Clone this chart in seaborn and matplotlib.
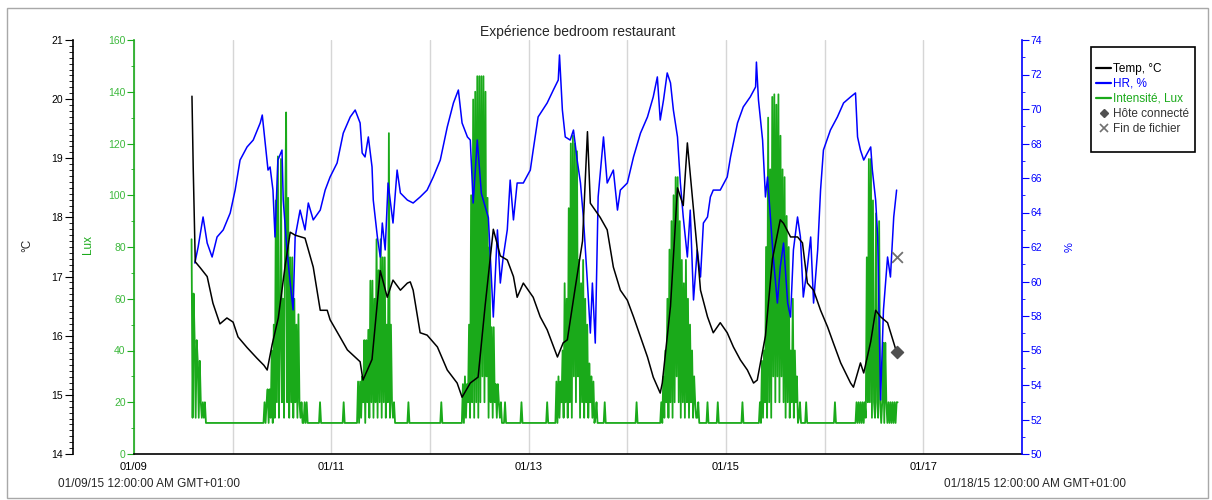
import matplotlib

matplotlib.use("Agg")
import matplotlib.dates as mdates
import matplotlib.pyplot as plt
import pandas as pd
import seaborn as sns
from matplotlib.lines import Line2D
from matplotlib.patches import Rectangle
from matplotlib.ticker import FuncFormatter, MultipleLocator

# ---------------------------------------------------------------
# DONNÉES (heures depuis le 01/09/15 00:00)
# ---------------------------------------------------------------
debut = pd.Timestamp("2015-01-09 00:00")
fin = pd.Timestamp("2015-01-18 00:00")

temp_heures = [14.1, 14.4, 14.9, 16.1, 17.8, 19.2, 20.9, 22.6, 24.1, 25.3,
               27.5, 29.9, 31.6, 32.4, 33.6, 35.1, 36.8, 38.0, 39.2, 41.6,
               43.6, 45.3, 47.0, 47.7, 50.1, 51.9, 55.0, 55.7, 57.9, 59.9,
               61.6, 63.0, 64.8, 66.5, 67.2, 67.9, 69.6, 71.3, 73.8, 76.2,
               78.6, 79.8, 81.8, 83.7, 85.4, 87.4, 89.1, 90.8, 92.3, 93.2,
               94.7, 97.1, 98.8, 100.5, 103.0, 104.4, 105.4, 107.3, 109.1, 110.3,
               111.0, 112.7, 113.4, 115.1, 116.6, 118.3, 120.0, 121.5, 123.2, 124.9,
               126.3, 128.0, 128.5, 130.5, 132.2, 133.6, 134.6, 136.1, 137.0, 137.8,
               139.5, 140.9, 142.6, 144.3, 145.8, 147.5, 149.2, 150.7, 151.6, 153.6,
               155.3, 157.2, 158.0, 159.7, 161.4, 162.6, 163.8, 165.3, 167.0, 168.7,
               170.1, 171.9, 174.3, 175.0, 176.7, 177.5, 179.2, 180.4, 181.6, 183.3,
               184.8, 185.5]
temp_valeurs = [20.05, 18.85, 17.25, 17.15, 17.0, 16.55, 16.2, 16.3, 16.23, 15.98,
                15.8, 15.62, 15.5, 15.42, 15.85, 16.3, 17.2, 17.75, 17.7, 17.65,
                17.16, 16.43, 16.43, 16.27, 15.98, 15.76, 15.56, 15.25, 15.6, 17.1,
                16.65, 16.94, 16.77, 16.89, 16.91, 16.77, 16.05, 16.01, 15.81, 15.42,
                15.2, 14.96, 15.2, 15.3, 16.5, 17.8, 17.35, 17.28, 17.0, 16.65,
                16.89, 16.65, 16.32, 16.1, 15.64, 15.88, 15.93, 16.8, 17.6, 19.45,
                18.24, 18.07, 18.0, 17.79, 17.16, 16.77, 16.6, 16.32, 15.98, 15.64,
                15.3, 15.03, 15.2, 16.5, 18.5, 18.2, 19.26, 18.13, 17.45, 16.77,
                16.32, 16.05, 16.22, 16.05, 15.81, 15.59, 15.42, 15.2, 15.25, 16.0,
                17.3, 17.96, 17.9, 17.67, 17.67, 17.57, 16.89, 16.77, 16.43, 16.15,
                15.88, 15.54, 15.2, 15.13, 15.54, 15.37, 15.9, 16.43, 16.32, 16.22,
                15.88, 15.72]

hr_heures = [14.8, 15.6, 16.8, 17.8, 19.0, 20.2, 21.7, 23.4, 24.6, 25.8,
             27.5, 29.0, 30.7, 31.2, 31.9, 32.6, 33.1, 33.8, 34.3, 35.0,
             36.0, 36.3, 37.2, 38.0, 38.7, 39.2, 40.4, 41.6, 42.4, 43.6,
             45.3, 46.5, 47.7, 49.4, 50.9, 52.6, 53.8, 55.0, 55.5, 56.2,
             57.0, 57.9, 58.2, 59.2, 59.9, 60.4, 61.1, 61.8, 63.0, 64.0,
             64.8, 66.5, 67.9, 69.6, 71.3, 72.8, 74.5, 76.2, 77.7, 78.9,
             79.8, 81.1, 81.8, 82.5, 83.5, 84.5, 86.2, 87.4, 88.4, 89.1,
             89.8, 90.8, 91.5, 92.3, 93.2, 94.7, 96.4, 97.1, 98.3, 100.5,
             102.0, 103.2, 103.5, 104.2, 104.9, 106.1, 106.9, 107.8, 108.6, 109.3,
             110.3, 111.0, 111.5, 112.2, 112.9, 114.2, 115.1, 116.6, 117.6, 118.3,
             120.0, 121.5, 123.2, 124.9, 126.3, 127.3, 128.0, 128.8, 129.7, 130.5,
             131.2, 132.2, 132.9, 133.6, 134.6, 135.3, 136.1, 137.0, 137.8, 138.5,
             139.5, 140.2, 140.9, 142.6, 144.3, 145.1, 146.8, 148.2, 149.9, 151.2,
             151.4, 151.9, 152.9, 153.6, 154.1, 154.8, 155.5, 156.5, 157.2, 158.0,
             159.0, 159.7, 160.4, 161.4, 162.1, 162.8, 163.8, 164.6, 165.3, 166.3,
             167.0, 167.7, 169.4, 171.1, 172.6, 174.3, 175.5, 176.0, 176.7, 177.5,
             178.4, 179.2, 179.6, 180.4, 180.9, 181.6, 182.3, 183.3, 184.0, 184.8,
             185.5]
hr_valeurs = [61.07, 62.0, 63.74, 62.23, 61.42, 62.58, 62.99, 63.97, 65.3, 67.04,
              67.8, 68.2, 69.19, 69.65, 68.03, 66.46, 66.64, 65.3, 62.58, 67.04,
              67.62, 64.72, 61.83, 59.91, 58.35, 62.58, 64.14, 62.99, 64.55, 63.57,
              64.14, 65.3, 66.06, 66.87, 68.6, 69.54, 69.94, 69.19, 67.45, 67.22,
              68.38, 66.64, 64.72, 62.58, 61.42, 63.39, 61.83, 65.71, 63.39, 66.46,
              65.13, 64.72, 64.55, 64.9, 65.3, 66.06, 67.04, 68.96, 70.35, 71.1,
              69.19, 68.38, 68.2, 64.55, 68.2, 65.1, 63.7, 57.94, 62.99, 59.91,
              61.4, 63.0, 65.88, 63.57, 65.71, 65.71, 66.46, 67.62, 69.54, 70.35,
              71.1, 71.68, 73.13, 69.94, 68.38, 68.2, 68.78, 67.04, 65.71, 63.74,
              59.91, 57.01, 59.91, 56.43, 64.9, 68.38, 65.71, 66.46, 64.14, 65.3,
              65.71, 67.22, 68.6, 69.54, 70.7, 71.86, 69.36, 70.52, 72.09, 71.51,
              69.94, 68.38, 65.71, 63.74, 61.42, 64.14, 58.93, 61.83, 60.26, 63.39,
              63.74, 64.9, 65.3, 65.3, 66.06, 67.22, 69.19, 70.12, 70.7, 71.28,
              72.72, 70.52, 68.2, 64.9, 66.06, 63.74, 61.42, 58.75, 60.84, 62.23,
              58.75, 57.94, 61.83, 63.74, 62.58, 59.1, 60.84, 62.58, 58.75, 61.83,
              65.3, 67.62, 68.78, 69.54, 70.35, 70.7, 70.93, 68.38, 67.62, 67.04,
              67.45, 67.8, 66.46, 64.72, 62.58, 53.13, 58.35, 61.42, 60.26, 63.74,
              65.3]

# Intensité lumineuse : relevés toutes les 15 min, niveau de fond 12 lux
lux_pas = "15min"
lux_fond = 12
lux_debut_h = 14.0
lux_fin_h = 185.75
lux_rafales_debut = [14.0, 31.5, 54.25, 79.75, 102.5, 128.0, 152.0, 175.5]
lux_a = [83, 14, 62, 44, 14, 44, 36, 14, 36, 20, 14, 20, 14, 20, 12]
lux_b = [12, 20, 12, 20, 25, 12, 25, 14, 40, 12, 50, 14, 98, 20, 115, 14, 40, 114, 20, 60,
         14, 85, 132, 20, 99, 14, 76, 20, 76, 14, 60, 20, 50, 14, 54, 20, 14, 20, 12, 12,
         20, 12, 20, 12]
lux_c = [12, 28, 12, 28, 14, 30, 20, 44, 12, 44, 20, 48, 14, 67, 20, 67, 14, 60, 20, 83,
         14, 71, 20, 83, 14, 76, 20, 76, 14, 50, 20, 124, 14, 50, 20, 14, 20, 12, 12]
lux_d = [12, 27, 12, 30, 14, 27, 20, 50, 14, 100, 20, 137, 14, 140, 20, 146, 14, 146, 20, 146,
         30, 146, 20, 140, 30, 99, 14, 80, 20, 49, 14, 49, 20, 27, 14, 27, 20, 14, 20, 12]
lux_e = [12, 28, 12, 30, 14, 28, 20, 40, 14, 66, 20, 60, 14, 95, 20, 120, 14, 123, 30, 120,
         20, 117, 30, 75, 14, 66, 20, 75, 14, 60, 20, 50, 14, 35, 20, 30, 14, 28, 12, 14,
         20, 12]
lux_f = [12, 20, 12, 30, 14, 40, 20, 60, 14, 79, 20, 90, 14, 100, 20, 107, 30, 107, 20, 90,
         14, 75, 20, 66, 14, 75, 20, 60, 14, 50, 20, 40, 14, 30, 20, 14, 14, 20, 12]
lux_g = [12, 20, 12, 36, 14, 40, 20, 80, 14, 130, 20, 110, 14, 138, 30, 139, 20, 135, 30, 139,
         20, 123, 30, 110, 20, 107, 14, 92, 20, 80, 14, 40, 20, 60, 14, 40, 20, 30, 12, 14,
         20, 12]
lux_h = [12, 20, 12, 20, 12, 20, 12, 20, 12, 20, 14, 76, 20, 114, 20, 114, 14, 98, 20, 14,
         93, 20, 14, 90, 20, 12, 20, 43, 12, 43, 20, 12, 20, 12, 20, 12, 20, 12, 20, 12,
         20, 20]
lux_pics_heures = [45.25, 51.0, 66.75, 74.75, 90.25, 94.25, 100.5, 114.5, 122.25,
                   139.5, 142.0, 148.0, 163.5, 170.5]
lux_pic = 20

fin_fichier_heure = 185.5
fin_fichier_hr = 61.4

# ---------------------------------------------------------------
# PRÉPARATION
# ---------------------------------------------------------------
def vers_dates(heures):
    return debut + pd.to_timedelta(pd.Series(heures), unit="h")


df_temp = pd.DataFrame({"fecha": vers_dates(temp_heures), "temp": temp_valeurs})
df_hr = pd.DataFrame({"fecha": vers_dates(hr_heures), "hr": hr_valeurs})

idx_lux = pd.date_range(debut + pd.Timedelta(hours=lux_debut_h),
                        debut + pd.Timedelta(hours=lux_fin_h), freq=lux_pas)
lux = pd.Series(float(lux_fond), index=idx_lux)
for h, vals in zip(lux_rafales_debut, [lux_a, lux_b, lux_c, lux_d, lux_e, lux_f, lux_g, lux_h]):
    i0 = lux.index.get_loc(debut + pd.Timedelta(hours=h))
    lux.iloc[i0:i0 + len(vals)] = vals
for h in lux_pics_heures:
    lux.loc[debut + pd.Timedelta(hours=h)] = lux_pic
df_lux = pd.DataFrame({"fecha": lux.index, "lux": lux.values})

# ---------------------------------------------------------------
# GRAPHIQUE
# ---------------------------------------------------------------
sns.set_style("white")
plt.rcParams["font.family"] = ["Liberation Sans", "DejaVu Sans"]

VERT = "#1aaa1a"
BLEU = "#0000ff"

W, H = 1212, 500
fig = plt.figure(figsize=(W / 100, H / 100), dpi=100)
ax_lux = fig.add_axes([134 / W, 1 - 454 / H, 888 / W, 414 / H])
ax_hr = ax_lux.twinx()
ax_t = ax_lux.twinx()

sns.lineplot(data=df_lux, x="fecha", y="lux", ax=ax_lux, color=VERT, linewidth=1.3,
             errorbar=None)
sns.lineplot(data=df_hr, x="fecha", y="hr", ax=ax_hr, color=BLEU, linewidth=1.1,
             errorbar=None)
sns.lineplot(data=df_temp, x="fecha", y="temp", ax=ax_t, color="black", linewidth=1.1,
             errorbar=None)

ax_t.scatter([df_temp["fecha"].iloc[-1]], [temp_valeurs[-1]], marker="D", s=38,
             color="#505050", zorder=5)
ax_hr.scatter([debut + pd.Timedelta(hours=fin_fichier_heure)], [fin_fichier_hr], marker="x",
              s=60, color="#707070", linewidths=1.3, zorder=5)

# axe x
ax_lux.set_xlim(debut, fin)
ax_lux.xaxis.set_major_locator(mdates.DayLocator())
ax_lux.xaxis.set_major_formatter(FuncFormatter(
    lambda v, p: mdates.num2date(v).strftime("%m/%d") if mdates.num2date(v).day % 2 == 1 else ""))
ax_lux.tick_params(axis="x", direction="out", length=4, width=1, colors="black",
                   labelsize=8, pad=2)
ax_lux.grid(axis="x", color="#d6d6d6", linewidth=1)

# axe lux (gauche, vert)
ax_lux.set_ylim(0, 160)
ax_lux.yaxis.set_major_locator(MultipleLocator(20))
ax_lux.yaxis.set_minor_locator(MultipleLocator(10))
ax_lux.tick_params(axis="y", which="both", direction="out", colors=VERT, labelcolor="#3cb83c",
                   labelsize=7.5, pad=1, left=True)
ax_lux.tick_params(axis="y", which="major", length=5)
ax_lux.tick_params(axis="y", which="minor", length=2.5)

# axe température (gauche décalé, noir)
ax_t.set_ylim(14, 21)
ax_t.yaxis.tick_left()
ax_t.yaxis.set_major_locator(MultipleLocator(1))
ax_t.yaxis.set_minor_locator(MultipleLocator(0.1))
ax_t.spines["left"].set_position(("axes", -61 / 888))
ax_t.tick_params(axis="y", which="both", direction="out", colors="black", labelsize=7.5, pad=1)
ax_t.tick_params(axis="y", which="major", length=6)
ax_t.tick_params(axis="y", which="minor", length=3)

# axe HR (droite, bleu)
ax_hr.set_ylim(50, 74)
ax_hr.yaxis.set_major_locator(MultipleLocator(2))
ax_hr.yaxis.set_minor_locator(MultipleLocator(1))
ax_hr.tick_params(axis="y", which="both", direction="out", colors=BLEU, labelsize=7.5, pad=1)
ax_hr.tick_params(axis="y", which="major", length=5)
ax_hr.tick_params(axis="y", which="minor", length=2.5)

for a in (ax_lux, ax_hr, ax_t):
    a.set_xlabel("")
    a.set_ylabel("")
    for s in a.spines.values():
        s.set_visible(False)
ax_lux.spines["bottom"].set_visible(True)
ax_lux.spines["bottom"].set_color("black")
ax_lux.spines["left"].set_visible(True)
ax_lux.spines["left"].set_color(VERT)
ax_t.spines["left"].set_visible(True)
ax_t.spines["left"].set_color("black")
ax_hr.spines["right"].set_visible(True)
ax_hr.spines["right"].set_color(BLEU)
for s in (ax_lux.spines["bottom"], ax_lux.spines["left"], ax_t.spines["left"],
          ax_hr.spines["right"]):
    s.set_linewidth(1.2)

ax_lux.set_title("Expérience bedroom restaurant", fontsize=10, pad=3)

# libellés d'axes et dates extrêmes
fig.text(27 / W, 1 - 245 / H, "°C", rotation=90, ha="center", va="center", fontsize=8.5)
fig.text(88 / W, 1 - 245 / H, "Lux", rotation=90, ha="center", va="center", fontsize=8.5,
         color=VERT)
fig.text(1070 / W, 1 - 247 / H, "%", rotation=90, ha="center", va="center", fontsize=8,
         color=BLEU)
fig.text(149 / W, 1 - 484 / H, "01/09/15 12:00:00 AM GMT+01:00", ha="center", va="center",
         fontsize=8.5)
fig.text(1035 / W, 1 - 484 / H, "01/18/15 12:00:00 AM GMT+01:00", ha="center", va="center",
         fontsize=8.5)

# légende
poignees = [
    Line2D([], [], color="black", lw=1.6, label="Temp, °C"),
    Line2D([], [], color=BLEU, lw=1.6, label="HR, %"),
    Line2D([], [], color=VERT, lw=1.6, label="Intensité, Lux"),
    Line2D([], [], color="#505050", marker="D", ms=4.5, ls="none", label="Hôte connecté"),
    Line2D([], [], color="#707070", marker="x", ms=5.5, mew=1.2, ls="none",
           label="Fin de fichier"),
]
leg = fig.legend(handles=poignees, loc="upper left", bbox_to_anchor=(1096 / W, 1 - 63 / H),
                 frameon=False, fontsize=8.5, handlelength=1.3, handletextpad=0.15,
                 labelspacing=0.25, borderpad=0, borderaxespad=0)
for t, c in zip(leg.get_texts(), ["black", BLEU, VERT, "#333333", "#333333"]):
    t.set_color(c)
fig.add_artist(Rectangle((1091 / W, 1 - 152 / H), 104 / W, 105 / H, transform=fig.transFigure,
                         fill=False, edgecolor="black", linewidth=1.2))

# cadre extérieur
fig.add_artist(Rectangle((7 / W, 1 - 498 / H), 1201 / W, 490 / H, transform=fig.transFigure,
                         fill=False, edgecolor="#a8a8a8", linewidth=1.0))

fig.savefig("out.png", dpi=100)
